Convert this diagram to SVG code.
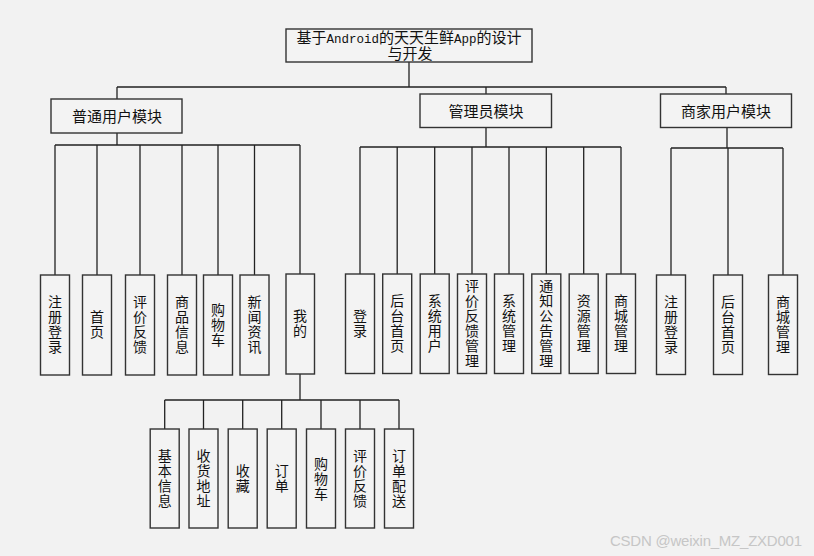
<svg xmlns="http://www.w3.org/2000/svg" width="814" height="556" viewBox="0 0 814 556">
<style>
.bg{fill:#f2f2f2}
.box{fill:#f3f3f3;stroke:#333;stroke-width:1.4}
.ln{stroke:#222;stroke-width:1.3;fill:none}
.t{font-family:"Noto Sans CJK SC","Noto Sans",sans-serif;font-size:14px;fill:#111;text-anchor:middle}
.m{font-size:15px}
.v{writing-mode:vertical-rl;letter-spacing:1px}
.lat{font-family:"Liberation Mono",monospace;font-size:12.5px}
.wm{font-family:"Liberation Sans",sans-serif;font-size:15px;fill:#c6c6c6}
</style>
<rect class="bg" x="0" y="0" width="814" height="556"/>

<g id="connectors">
<path class="ln" d="M409 62V87M117 87H726M117 87V99M486 87V94M726 87V94"/>
<path class="ln" d="M117 133V145M55 145H300M55 145V275M97 145V275M140 145V275M182 145V275M218 145V275M254.5 145V275M300 145V274"/>
<path class="ln" d="M486 127V147M360 147H621M360 147V274M397.2 147V274M434.7 147V274M472 147V274M509 147V274M546.3 147V274M583.7 147V274M621 147V274"/>
<path class="ln" d="M727 127V148M671 148H783M671 148V275M728 148V275M783 148V275"/>
<path class="ln" d="M300 374V400M164.7 400H399M164.7 400V429M203.5 400V429M242.7 400V429M281.7 400V429M321 400V429M360 400V429M399 400V429"/>
</g>

<g id="title">
<rect class="box" x="286" y="29" width="246" height="33"/>
<text class="t m" x="409" y="43"><tspan>基于</tspan><tspan class="lat">Android</tspan><tspan>的天天生鲜</tspan><tspan class="lat">App</tspan><tspan>的设计</tspan><tspan x="410" y="59">与开发</tspan></text>
</g>

<g id="mod-user">
<rect class="box" x="51" y="99" width="131" height="34"/>
<text class="t m" x="117" y="122">普通用户模块</text>
</g>
<g id="mod-admin">
<rect class="box" x="420" y="94" width="131.5" height="33.5"/>
<text class="t m" x="486" y="116.5">管理员模块</text>
</g>
<g id="mod-merchant">
<rect class="box" x="660.5" y="94" width="131" height="33.5"/>
<text class="t m" x="726" y="116.5">商家用户模块</text>
</g>

<g id="u1"><rect class="box" x="40.5" y="275" width="29" height="100"/><text class="t v" x="55" y="325">注册登录</text></g>
<g id="u2"><rect class="box" x="82.5" y="275" width="29" height="100"/><text class="t v" x="97" y="325">首页</text></g>
<g id="u3"><rect class="box" x="125.5" y="275" width="29" height="100"/><text class="t v" x="140" y="325">评价反馈</text></g>
<g id="u4"><rect class="box" x="167.5" y="275" width="29" height="100"/><text class="t v" x="182" y="325">商品信息</text></g>
<g id="u5"><rect class="box" x="203.5" y="275" width="29" height="100"/><text class="t v" x="218" y="325">购物车</text></g>
<g id="u6"><rect class="box" x="240" y="275" width="29" height="100"/><text class="t v" x="254.5" y="325">新闻资讯</text></g>
<g id="u7"><rect class="box" x="286" y="274" width="28.5" height="100"/><text class="t v" x="300" y="324">我的</text></g>

<g id="a1"><rect class="box" x="345.5" y="274" width="29" height="99.5"/><text class="t v" x="360" y="324">登录</text></g>
<g id="a2"><rect class="box" x="382.7" y="274" width="29" height="99.5"/><text class="t v" x="397.2" y="324">后台首页</text></g>
<g id="a3"><rect class="box" x="420.2" y="274" width="29" height="99.5"/><text class="t v" x="434.7" y="324">系统用户</text></g>
<g id="a4"><rect class="box" x="457.5" y="274" width="29" height="99.5"/><text class="t v" x="472" y="324">评价反馈管理</text></g>
<g id="a5"><rect class="box" x="494.5" y="274" width="29" height="99.5"/><text class="t v" x="509" y="324">系统管理</text></g>
<g id="a6"><rect class="box" x="531.8" y="274" width="29" height="99.5"/><text class="t v" x="546.3" y="324">通知公告管理</text></g>
<g id="a7"><rect class="box" x="569.2" y="274" width="29" height="99.5"/><text class="t v" x="583.7" y="324">资源管理</text></g>
<g id="a8"><rect class="box" x="606.5" y="274" width="29" height="99.5"/><text class="t v" x="621" y="324">商城管理</text></g>

<g id="s1"><rect class="box" x="656.5" y="275" width="29" height="99.5"/><text class="t v" x="671" y="325">注册登录</text></g>
<g id="s2"><rect class="box" x="713.5" y="275" width="29" height="99.5"/><text class="t v" x="728" y="325">后台首页</text></g>
<g id="s3"><rect class="box" x="768.5" y="275" width="29" height="99.5"/><text class="t v" x="783" y="325">商城管理</text></g>

<g id="m1"><rect class="box" x="150.2" y="429" width="29" height="99"/><text class="t v" x="164.7" y="479">基本信息</text></g>
<g id="m2"><rect class="box" x="189" y="429" width="29" height="99"/><text class="t v" x="203.5" y="479">收货地址</text></g>
<g id="m3"><rect class="box" x="228.2" y="429" width="29" height="99"/><text class="t v" x="242.7" y="479">收藏</text></g>
<g id="m4"><rect class="box" x="267.2" y="429" width="29" height="99"/><text class="t v" x="281.7" y="479">订单</text></g>
<g id="m5"><rect class="box" x="306.5" y="429" width="29" height="99"/><text class="t v" x="321" y="479">购物车</text></g>
<g id="m6"><rect class="box" x="345.5" y="429" width="29" height="99"/><text class="t v" x="360" y="479">评价反馈</text></g>
<g id="m7"><rect class="box" x="384.5" y="429" width="29" height="99"/><text class="t v" x="399" y="479">订单配送</text></g>

<text class="wm" x="610" y="546" textLength="192">CSDN @weixin_MZ_ZXD001</text>
</svg>
